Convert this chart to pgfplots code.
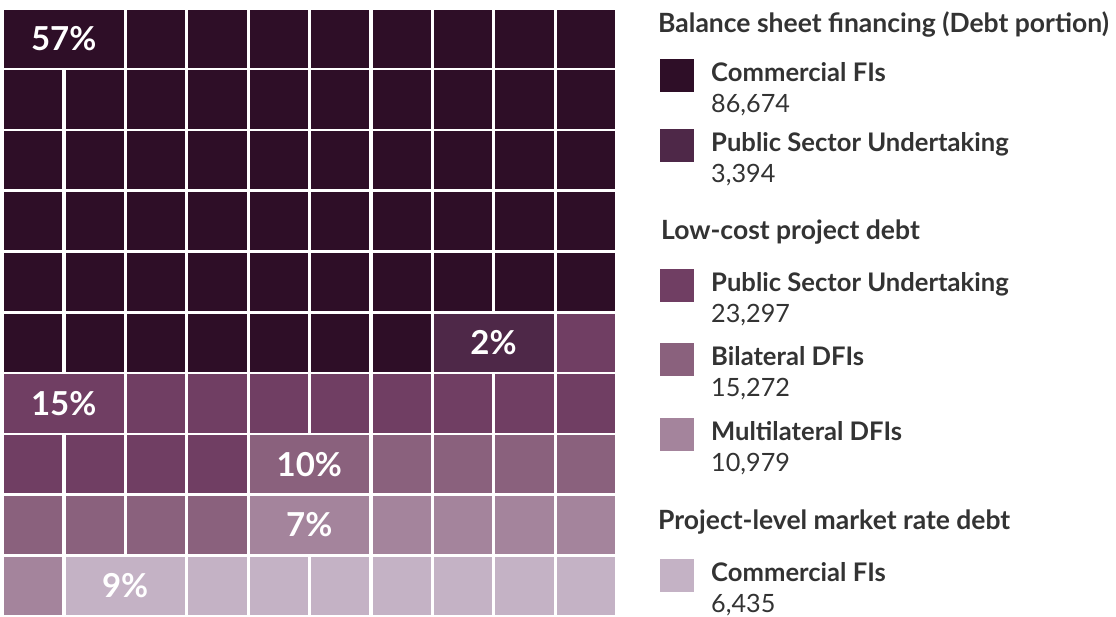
\documentclass[border=0pt]{standalone}
\usepackage{pgfplots}
\pgfplotsset{compat=1.18}
\usepackage{fontspec}
\setmainfont{Lato}

\definecolor{cfis}{HTML}{2E0E27}
\definecolor{psub}{HTML}{4E2848}
\definecolor{psul}{HTML}{703E63}
\definecolor{bdfi}{HTML}{8A617D}
\definecolor{mdfi}{HTML}{A4849C}
\definecolor{cfip}{HTML}{C4B2C5}
\definecolor{txt}{HTML}{333333}

% #1 label, #2 baseline (px from top), #3 colour, #4 value
\newcommand{\lgtitle}[3]{\node[anchor=base west,text=txt,inner sep=0pt,font=\fontsize{26.5}{30}\selectfont\bfseries] at (#1,#2) {#3};}
\newcommand{\lgitem}[4]{%
  \fill[#3] (660,#2-23) rectangle (694,#2+10);
  \node[anchor=base west,text=txt,inner sep=0pt,font=\fontsize{25.6}{30}\selectfont\bfseries] at (711,#2) {#1};
  \node[anchor=base west,text=txt,inner sep=0pt,font=\fontsize{25.2}{30}\selectfont] at (711,#2+31) {#4};}

\begin{document}
\begin{tikzpicture}
\path (0pt,0pt) rectangle (1116pt,617pt);
\begin{axis}[
    scale only axis,
    width=1116pt, height=617pt,
    y dir=reverse,
    xmin=0.4626, xmax=18.638,
    ymin=0.3668, ymax=10.515,
    axis lines=none,
    ticks=none,
    clip=false,
    clip marker paths=true,
    anchor=south west, at={(0pt,0pt)},
    every axis plot/.append style={only marks, mark=square*, mark size=28.6pt},
]
% waffle: (column, row), 100 cells; the extra half-step points join the labelled pairs
\addplot[color=cfis] coordinates {
    (1,1) (2,1) (3,1) (4,1) (5,1) (6,1) (7,1) (8,1) (9,1) (10,1)
    (1,2) (2,2) (3,2) (4,2) (5,2) (6,2) (7,2) (8,2) (9,2) (10,2)
    (1,3) (2,3) (3,3) (4,3) (5,3) (6,3) (7,3) (8,3) (9,3) (10,3)
    (1,4) (2,4) (3,4) (4,4) (5,4) (6,4) (7,4) (8,4) (9,4) (10,4)
    (1,5) (2,5) (3,5) (4,5) (5,5) (6,5) (7,5) (8,5) (9,5) (10,5)
    (1,6) (2,6) (3,6) (4,6) (5,6) (6,6) (7,6) (1.5,1)
};
\addplot[color=psub] coordinates {
    (8,6) (9,6) (8.5,6)
};
\addplot[color=psul] coordinates {
    (10,6)
    (1,7) (2,7) (3,7) (4,7) (5,7) (6,7) (7,7) (8,7) (9,7) (10,7)
    (1,8) (2,8) (3,8) (4,8) (1.5,7)
};
\addplot[color=bdfi] coordinates {
    (5,8) (6,8) (7,8) (8,8) (9,8) (10,8)
    (1,9) (2,9) (3,9) (4,9) (5.5,8)
};
\addplot[color=mdfi] coordinates {
    (5,9) (6,9) (7,9) (8,9) (9,9) (10,9)
    (1,10) (5.5,9)
};
\addplot[color=cfip] coordinates {
    (2,10) (3,10) (4,10) (5,10) (6,10) (7,10) (8,10) (9,10) (10,10) (2.5,10)
};
\node[text=white,font=\fontsize{33}{36}\selectfont\bfseries] at (axis cs:1.5,1) {57\%};
\node[text=white,font=\fontsize{33}{36}\selectfont\bfseries] at (axis cs:8.5,6) {2\%};
\node[text=white,font=\fontsize{33}{36}\selectfont\bfseries] at (axis cs:1.5,7) {15\%};
\node[text=white,font=\fontsize{33}{36}\selectfont\bfseries] at (axis cs:5.5,8) {10\%};
\node[text=white,font=\fontsize{33}{36}\selectfont\bfseries] at (axis cs:5.5,9) {7\%};
\node[text=white,font=\fontsize{33}{36}\selectfont\bfseries] at (axis cs:2.5,10) {9\%};
\end{axis}

\begin{scope}[shift={(0pt,617pt)},x=1pt,y=-1pt]
\lgtitle{658}{33}{Balance sheet financing (Debt portion)}
\lgitem{Commercial FIs}{82}{cfis}{86,674}
\lgitem{Public Sector Undertaking}{152}{psub}{3,394}
\lgtitle{661}{240}{Low-cost project debt}
\lgitem{Public Sector Undertaking}{292}{psul}{23,297}
\lgitem{Bilateral DFIs}{366}{bdfi}{15,272}
\lgitem{Multilateral DFIs}{441}{mdfi}{10,979}
\lgtitle{658}{530}{Project-level market rate debt}
\lgitem{Commercial FIs}{582}{cfip}{6,435}
\end{scope}
\end{tikzpicture}
\end{document}
